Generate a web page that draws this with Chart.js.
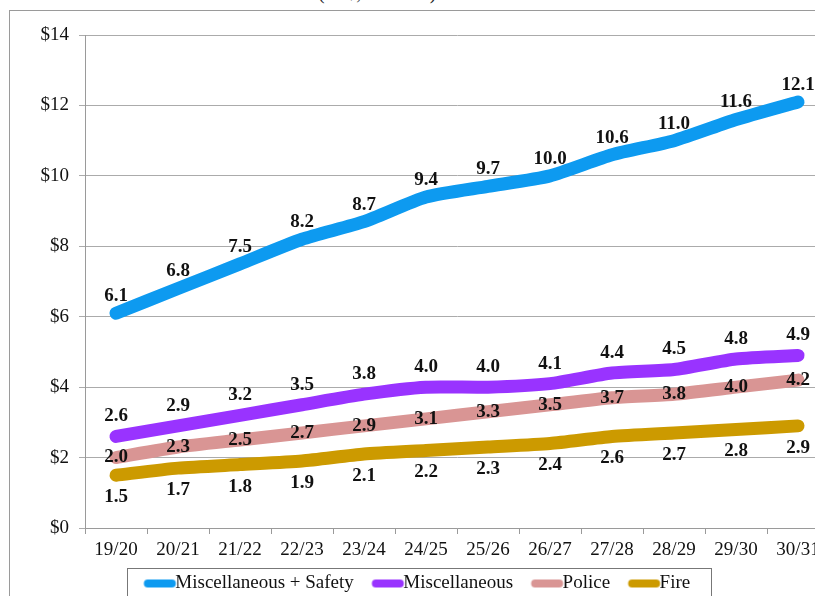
<!DOCTYPE html>
<html>
<head>
<meta charset="utf-8">
<script src="https://cdn.jsdelivr.net/npm/chart.js@4.4.1/dist/chart.umd.min.js"></script>
<style>
  html, body { margin: 0; padding: 0; background: #fff; overflow: hidden; width: 815px; height: 596px; }
  #frame { position: absolute; left: 9px; top: 10px; width: 900px; height: 700px; border: 1px solid #9a9a9a; box-sizing: border-box; }
  #title { position: absolute; left: 318px; top: -19px; font: 20px "Liberation Serif", "Times New Roman", serif; color: #222; white-space: nowrap; }
  #c { position: absolute; left: 0; top: 0; }
</style>
</head>
<body>
<div id="frame"></div>
<div id="title">(In $, Billions)</div>
<canvas id="c" width="838" height="603"></canvas>
<script>
const categories = ["19/20","20/21","21/22","22/23","23/24","24/25","25/26","26/27","27/28","28/29","29/30","30/31"];
const miscSafety = [6.1, 6.8, 7.5, 8.2, 8.7, 9.4, 9.7, 10.0, 10.6, 11.0, 11.6, 12.1];
const misc       = [2.6, 2.9, 3.2, 3.5, 3.8, 4.0, 4.0, 4.1, 4.4, 4.5, 4.8, 4.9];
const police     = [2.0, 2.3, 2.5, 2.7, 2.9, 3.1, 3.3, 3.5, 3.7, 3.8, 4.0, 4.2];
const fire       = [1.5, 1.7, 1.8, 1.9, 2.1, 2.2, 2.3, 2.4, 2.6, 2.7, 2.8, 2.9];
const seriesNames = ["Miscellaneous + Safety", "Miscellaneous", "Police", "Fire"];
const yTicks = [0, 2, 4, 6, 8, 10, 12, 14];

const SERIF = '"Liberation Serif", "Times New Roman", serif';
const colors = ['#0d9af0', '#9933ff', '#d99594', '#cc9a00'];
const labelOffsets = [-17, -20, 0, 22];

// legend symbol: thick rounded line drawn on a small canvas
function legendSymbol(color) {
  const c = document.createElement('canvas');
  c.width = 54; c.height = 12;
  const g = c.getContext('2d');
  g.strokeStyle = color;
  g.lineWidth = 8;
  g.lineCap = 'round';
  g.beginPath();
  g.moveTo(22.5, 6);
  g.lineTo(46.5, 6);
  g.stroke();
  return c;
}

const valueLabels = {
  id: 'valueLabels',
  afterDatasetsDraw(chart) {
    const ctx = chart.ctx;
    ctx.save();
    ctx.font = 'bold 19px ' + SERIF;
    ctx.fillStyle = '#111';
    ctx.textAlign = 'center';
    ctx.textBaseline = 'middle';
    chart.data.datasets.forEach((ds, di) => {
      const meta = chart.getDatasetMeta(di);
      meta.data.forEach((pt, i) => {
        ctx.fillText(ds.data[i].toFixed(1), pt.x, pt.y + labelOffsets[di]);
      });
    });
    ctx.restore();
  }
};

const legendBox = {
  id: 'legendBox',
  afterDraw(chart) {
    const lg = chart.legend;
    if (!lg || !lg.legendHitBoxes || !lg.legendHitBoxes.length) return;
    const hb = lg.legendHitBoxes;
    const first = hb[0], last = hb[hb.length - 1];
    const ctx = chart.ctx;
    ctx.save();
    ctx.strokeStyle = '#777';
    ctx.lineWidth = 1;
    const l = Math.round(first.left - 12) + 0.5;
    const r = Math.round(last.left + last.width + 21) + 0.5;
    const t = Math.round(lg.top + 7) + 0.5;
    ctx.strokeRect(l, t, r - l, 60);
    ctx.restore();
  }
};

const datasetsSrc = [miscSafety, misc, police, fire];
const chart = new Chart(document.getElementById('c'), {
  type: 'line',
  data: {
    labels: categories,
    datasets: datasetsSrc.map((d, i) => ({
      label: seriesNames[i],
      data: d,
      borderColor: colors[i],
      backgroundColor: colors[i],
      borderWidth: 13,
      borderCapStyle: 'round',
      borderJoinStyle: 'round',
      pointRadius: 0,
      pointHoverRadius: 0,
      tension: 0.2,
      fill: false
    }))
  },
  options: {
    responsive: false,
    animation: false,
    devicePixelRatio: 1,
    layout: { padding: { top: 35, right: 9, left: 0, bottom: 0 } },
    plugins: {
      tooltip: { enabled: false },
      title: { display: false },
      legend: {
        position: 'bottom',
        labels: {
          usePointStyle: true,
          pointStyleWidth: 27,
          padding: 13,
          color: '#111',
          font: { family: SERIF, size: 19 },
          generateLabels(chart) {
            return chart.data.datasets.map((ds, i) => ({
              text: ds.label,
              fillStyle: ds.borderColor,
              strokeStyle: ds.borderColor,
              lineWidth: 0,
              pointStyle: legendSymbol(ds.borderColor),
              hidden: false,
              datasetIndex: i,
              fontColor: '#111'
            }));
          }
        }
      }
    },
    scales: {
      x: {
        offset: true,
        afterFit(s) { s.height = 33; },
        grid: { display: true, drawOnChartArea: false, offset: true, tickLength: 6, color: '#9a9a9a' },
        border: { display: true, color: '#9a9a9a' },
        ticks: { padding: 5, color: '#111', font: { family: SERIF, size: 19 }, maxRotation: 0, autoSkip: false }
      },
      y: {
        min: 0, max: 14,
        afterFit(s) { s.width = 85; },
        afterBuildTicks(s) { s.ticks = yTicks.map(v => ({ value: v })); },
        grid: { color: '#ababab', tickLength: 6 },
        border: { display: true, color: '#9a9a9a' },
        ticks: { padding: 10, color: '#111', font: { family: SERIF, size: 19 }, callback: v => '$' + v }
      }
    }
  },
  plugins: [valueLabels, legendBox]
});
</script>
</body>
</html>
